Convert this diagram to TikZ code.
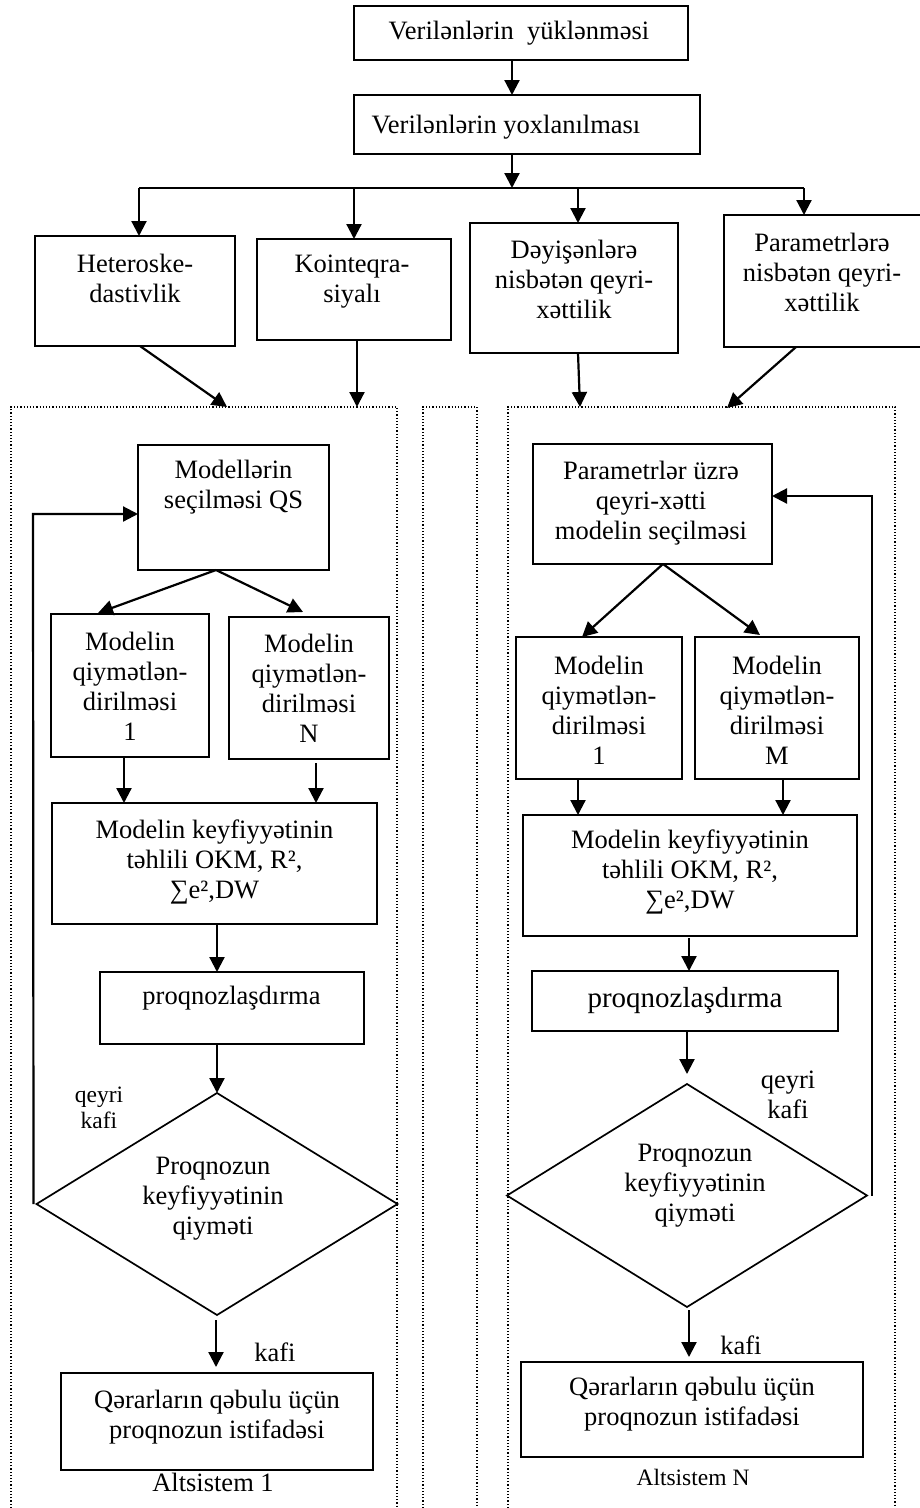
\documentclass[tikz,border=0pt]{standalone}
\usepackage{fontspec}
\setmainfont{Liberation Serif}
\usetikzlibrary{arrows.meta,shapes.geometric,calc}
\begin{document}
\begin{tikzpicture}[x=1pt,y=-1pt,
  box/.style={draw, line width=2.2pt, inner sep=0pt, outer sep=0pt},
  dia/.style={draw, diamond, line width=1.7pt, inner sep=0pt, outer sep=0pt},
  txt/.style={align=center, inner sep=0pt, font=\fontsize{26.5}{30}\selectfont},
  txts/.style={align=center, inner sep=0pt, font=\fontsize{23.5}{25.5}\selectfont},
  txtl/.style={align=center, inner sep=0pt, font=\fontsize{29}{33}\selectfont},
  arr/.style={line width=2.2pt, -{Triangle[length=15pt,width=15pt]}},
  ln/.style={line width=2.2pt},
  frame/.style={line width=1.2pt, dash pattern=on 1.2pt off 2pt}]
\useasboundingbox (0,0) rectangle (920,1508);

% ---------- common part ----------
\node[box, minimum width=334pt, minimum height=54pt] (load) at (521,33) {};
\node[txt] (load-t) at (519,33) {Verilənlərin~ yüklənməsi};
\node[box, minimum width=346pt, minimum height=59pt] (check) at (527,124.5) {};
\node[txt] (check-t) at (506,127) {Verilənlərin yoxlanılması};

\coordinate (split) at (512,188);
\coordinate (splitA) at (139,188);
\coordinate (splitB) at (354,188);
\coordinate (splitC) at (578,188);
\coordinate (splitD) at (804,188);

\draw[arr] (load.south -| split) -- (check.north -| split);
\draw[arr] (check.south -| split) -- (split);
\draw[ln] (splitA) -- (splitD);

\node[box, minimum width=200pt, minimum height=110pt] (het) at (135,291) {};
\node[txt] (het-t) at (135,278) {Heteroske-\\dastivlik};
\node[box, minimum width=194pt, minimum height=101pt] (koi) at (354,289.5) {};
\node[txt] (koi-t) at (352,282) {Kointeqra-\\siyalı};
\node[box, minimum width=208pt, minimum height=130pt] (dey) at (574,288) {};
\node[txt] (dey-t) at (574,279) {Dəyişənlərə\\nisbətən qeyri-\\xəttilik};
% this box runs past the right edge of the page
\node[box, minimum width=206pt, minimum height=132pt] (par) at (827,281) {};
\node[txt] (par-t) at (822,272) {Parametrlərə\\nisbətən qeyri-\\xəttilik};

\draw[arr] (splitA) -- (het.north -| splitA);
\draw[arr] (splitB) -- (koi.north -| splitB);
\draw[arr] (splitC) -- (dey.north -| splitC);
\draw[arr] (splitD) -- (par.north -| splitD);

% ---------- subsystem frames ----------
\coordinate (inL1) at (227,407);
\coordinate (inL2) at (357,407);
\coordinate (inR1) at (580,407);
\coordinate (inR2) at (727,408);
\draw[frame] (11,1508) -- (11,407) -- (397,407) -- (397,1508);
\draw[frame] (423,1508) -- (423,407) -- (477,407) -- (477,1508);
\draw[frame] (508,1508) -- (508,407) -- (895,407) -- (895,1508);

\draw[arr] ($(het.south)+(5,0)$) -- (inL1);
\draw[arr] (koi.south -| inL2) -- (inL2);
\draw[arr] ($(dey.south)+(4,0)$) -- (inR1);
\draw[arr] ($(par.south)+(-31,0)$) -- (inR2);

% ---------- subsystem 1 ----------
\node[box, minimum width=191pt, minimum height=125pt] (qs) at (233.5,507.5) {};
\node[txt] (qs-t) at (233.5,487) {Modellərin\\seçilməsi QS};
\node[box, minimum width=158pt, minimum height=143pt] (m1) at (130,685.5) {};
\node[txt] (m1-t) at (130,686) {Modelin\\qiymətlən-\\dirilməsi\\1};
\node[box, minimum width=160pt, minimum height=142pt] (mN) at (309,688) {};
\node[txt] (mN-t) at (309,688) {Modelin\\qiymətlən-\\dirilməsi\\N};
\node[box, minimum width=325pt, minimum height=121pt] (kL) at (214.5,863.5) {};
\node[txt] (kL-t) at (214.5,862) {Modelin keyfiyyətinin\\təhlili OKM, R²,\\∑e²,DW};
\node[box, minimum width=264pt, minimum height=72pt] (pL) at (232,1008) {};
\node[txt] (pL-t) at (231.5,998) {proqnozlaşdırma};
\node[dia, minimum width=361pt, minimum height=222pt] (dL) at (217,1204) {};
\node[txt] (dL-t) at (213,1199) {Proqnozun\\keyfiyyətinin\\qiyməti};
\node[box, minimum width=312pt, minimum height=97pt] (fL) at (217,1421.5) {};
\node[txt] (fL-t) at (217,1417) {Qərarların qəbulu üçün\\proqnozun istifadəsi};

\node[txts] (noL) at (99,1108) {qeyri\\kafi};
\node[txt] (okL) at (275,1352) {kafi};
\node[txt] (subL) at (213,1482) {Altsistem 1};

\coordinate (qsS) at ($(qs.south)+(-17.5,0)$);
\draw[arr] (qsS) -- ($(m1.north)+(-32,-1)$);
\draw[arr] (qsS) -- ($(mN.north)+(-6,-5)$);
\path (m1.south) ++(-6,0) coordinate (a1);
\draw[arr] (a1) -- (a1 |- kL.north);
\path (mN.south) ++(7,4) coordinate (a2);
\draw[arr] (a2) -- (a2 |- kL.north);
\path (kL.south) ++(2.5,0) coordinate (a3);
\draw[arr] (a3) -- (a3 |- pL.north);
\draw[arr] (pL.south -| dL.north) -- (dL.north);
\path (dL.south) ++(-1,5) coordinate (a4);
\draw[arr] (a4) -- ($(a4 |- fL.north)+(0,-6)$);

\coordinate (fbL) at (33,514);
\draw[arr] ($(dL.west)+(-3,0)$) -- (fbL) -- (qs.west |- fbL);

% ---------- subsystem N ----------
\node[box, minimum width=239pt, minimum height=120pt] (pr) at (652.5,504) {};
\node[txt] (pr-t) at (651,503) {Parametrlər üzrə\\qeyri-xətti\\modelin seçilməsi};
\node[box, minimum width=166pt, minimum height=142pt] (r1) at (599,708) {};
\node[txt] (r1-t) at (599,710) {Modelin\\qiymətlən-\\dirilməsi\\1};
\node[box, minimum width=164pt, minimum height=142pt] (rM) at (777,708) {};
\node[txt] (rM-t) at (777,710) {Modelin\\qiymətlən-\\dirilməsi\\M};
\node[box, minimum width=334pt, minimum height=121pt] (kR) at (690,875.5) {};
\node[txt] (kR-t) at (690,872) {Modelin keyfiyyətinin\\təhlili OKM, R²,\\∑e²,DW};
\node[box, minimum width=306pt, minimum height=60pt] (pR) at (685,1001) {};
\node[txtl] (pR-t) at (685,1001) {proqnozlaşdırma};
\node[dia, minimum width=360pt, minimum height=223pt] (dR) at (687,1195.5) {};
\node[txt] (dR-t) at (695,1186) {Proqnozun\\keyfiyyətinin\\qiyməti};
\node[box, minimum width=342pt, minimum height=95pt] (fR) at (692,1409.5) {};
\node[txt] (fR-t) at (692,1404) {Qərarların qəbulu üçün\\proqnozun istifadəsi};

\node[txt] (noR) at (788,1095) {qeyri\\kafi};
\node[txt] (okR) at (741,1345) {kafi};
\node[txts] (subR) at (693,1477) {Altsistem N};

\coordinate (prS) at ($(pr.south)+(10.5,0)$);
\draw[arr] (prS) -- ($(r1.north)+(-17,0)$);
\draw[arr] (prS) -- ($(rM.north)+(-17,-2)$);
\path (r1.south) ++(-21,0) coordinate (b1);
\draw[arr] (b1) -- (b1 |- kR.north);
\path (rM.south) ++(6,0) coordinate (b2);
\draw[arr] (b2) -- (b2 |- kR.north);
\path (kR.south) ++(-1,2) coordinate (b3);
\draw[arr] (b3) -- (b3 |- pR.north);
\path (pR.south -| dR.north) coordinate (b4);
\draw[arr] (b4) -- ($(dR.north)+(0,-10)$);
\path (dR.south) ++(2,3) coordinate (b5);
\draw[arr] (b5) -- ($(b5 |- fR.north)+(0,-5)$);

\coordinate (fbR) at (872,496);
\draw[arr] ($(dR.east)+(5,0)$) -- (fbR) -- (pr.east |- fbR);
\end{tikzpicture}
\end{document}
